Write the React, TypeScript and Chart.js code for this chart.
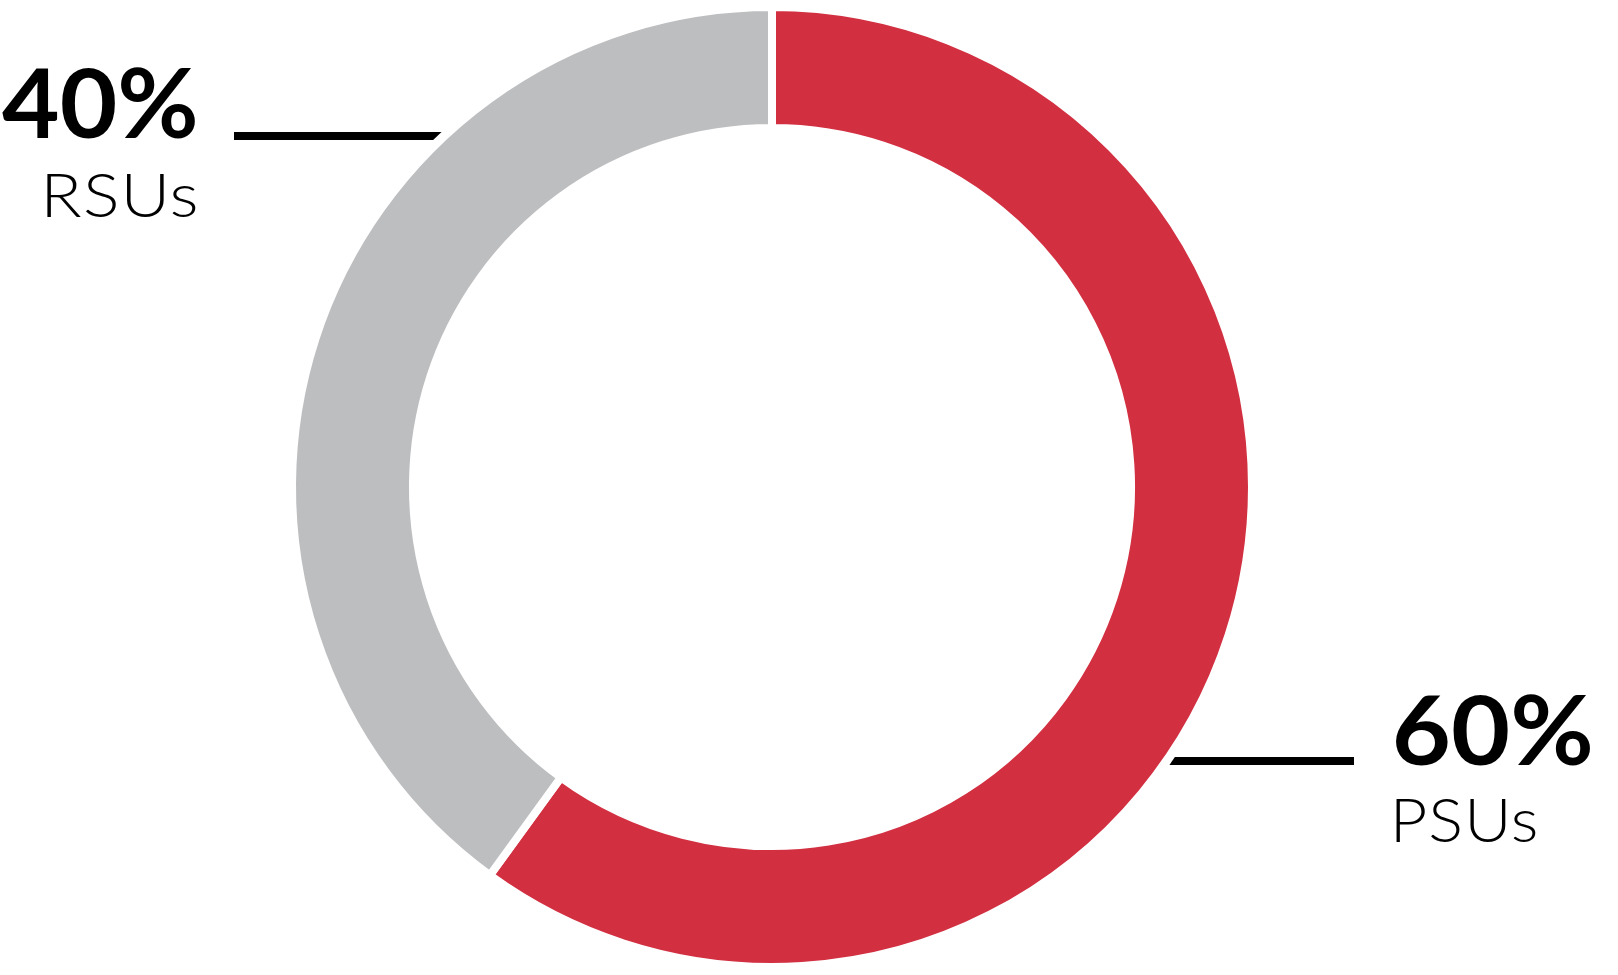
import { useEffect, useRef } from 'react';
import { Chart, registerables } from 'chart.js';

Chart.register(...registerables);

const categories = ['PSUs', 'RSUs'];
const shares = [60, 40];
const sliceColors = ['#D22F41', '#BDBEC0'];

// where each callout sits (left/right edge of text, baselines, leader line y)
const callouts = [
    { side: 'right', lineY: 761, lineEnd: 1354, textLeft: 1396, pctBase: 765, pctWidth: 194, nameBase: 842, nameWidth: 139 },
    { side: 'left', lineY: 136, lineEnd: 234, textRight: 195, pctBase: 138, pctWidth: 193, nameBase: 217, nameWidth: 148 },
];

const BOLD = '"Lato", "DejaVu Sans", sans-serif';
const LIGHT = '"Lato", "DejaVu Sans", sans-serif';

// size text by its cap height, then stretch it sideways to the ink width
function drawFitted(ctx, text, weight, family, capHeight, inkWidth, baseline, left, right, track) {
    ctx.letterSpacing = '0px';
    ctx.font = `${weight} 100px ${family}`;
    let m = ctx.measureText(text);
    const size = (100 * capHeight) / m.actualBoundingBoxAscent;
    ctx.font = `${weight} ${size}px ${family}`;
    ctx.letterSpacing = `${track}px`;
    m = ctx.measureText(text);
    const ink = m.actualBoundingBoxLeft + m.actualBoundingBoxRight - track;
    const sx = inkWidth / ink;
    const x0 = left !== undefined ? left : right - inkWidth;
    ctx.save();
    ctx.translate(x0, baseline);
    ctx.scale(sx, 1);
    ctx.textAlign = 'left';
    ctx.textBaseline = 'alphabetic';
    ctx.fillText(text, m.actualBoundingBoxLeft, 0);
    ctx.restore();
    ctx.letterSpacing = '0px';
}

const calloutPlugin = {
    id: 'callouts',
    afterDraw(chart) {
        const ctx = chart.ctx;
        const meta = chart.getDatasetMeta(0);
        const total = shares.reduce((a, b) => a + b, 0);
        ctx.save();
        ctx.fillStyle = '#000';
        meta.data.forEach((arc, i) => {
            const c = callouts[i];
            if (!c) return;
            const { x, y, outerRadius } = arc.getProps(['x', 'y', 'outerRadius'], true);
            const r = outerRadius + 5;
            const half = 4;
            const edgeX = (yy) => {
                const dy = yy - y;
                const dx = Math.sqrt(Math.max(r * r - dy * dy, 0));
                return c.side === 'left' ? x - dx : x + dx;
            };
            ctx.beginPath();
            ctx.moveTo(c.lineEnd, c.lineY - half);
            ctx.lineTo(edgeX(c.lineY - half), c.lineY - half);
            ctx.lineTo(edgeX(c.lineY + half), c.lineY + half);
            ctx.lineTo(c.lineEnd, c.lineY + half);
            ctx.closePath();
            ctx.fill();

            const pct = Math.round((shares[i] / total) * 100) + '%';
            drawFitted(ctx, pct, 'bold', BOLD, 70, c.pctWidth, c.pctBase, c.textLeft, c.textRight, 0);
            drawFitted(ctx, categories[i], '300', LIGHT, 45, c.nameWidth, c.nameBase, c.textLeft, c.textRight, 1);
        });
        ctx.restore();
    },
};

const SplitDonut = () => {
    const canvasRef = useRef(null);

    useEffect(() => {
        const ctx = canvasRef.current.getContext('2d');
        const chart = new Chart(ctx, {
            type: 'doughnut',
            data: {
                labels: categories,
                datasets: [{
                    data: shares,
                    backgroundColor: sliceColors,
                    borderColor: '#ffffff',
                    borderWidth: 8,
                    borderAlign: 'center',
                    hoverOffset: 0,
                }],
            },
            options: {
                responsive: true,
                maintainAspectRatio: false,
                animation: false,
                cutout: '74.8%',
                layout: {
                    padding: { left: 288, right: 362, top: 3, bottom: 4 },
                },
                plugins: {
                    legend: { display: false },
                    tooltip: { enabled: false },
                },
            },
            plugins: [calloutPlugin],
        });

        return () => {
            chart.destroy();
        };
    }, []);

    return (
        <div style={{ position: 'absolute', left: 0, top: 0, width: 1618, height: 975, background: '#fff' }}>
            <canvas ref={canvasRef}></canvas>
        </div>
    );
};

export default function App() {
    return <SplitDonut />;
}
